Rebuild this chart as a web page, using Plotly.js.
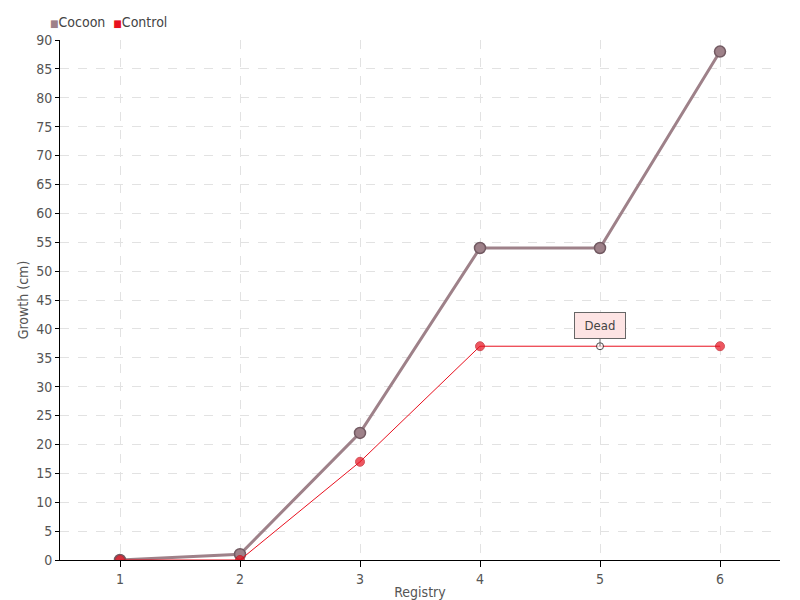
<!DOCTYPE html>
<html><head><meta charset="utf-8">
<script src="https://cdn.plot.ly/plotly-3.0.1.min.js"></script>
<style>html,body{margin:0;padding:0;background:#fff}
#chart text{font-stretch:condensed !important}</style>
</head><body>
<div id="chart" style="width:800px;height:600px"></div>
<script>
const categories = [1, 2, 3, 4, 5, 6];
const cocoon = [0, 1, 22, 54, 54, 88];
const control = [0, 0, 17, 37, 37, 37];
const seriesNames = ["Cocoon", "Control"];
const annotationText = "Dead";
const annotationIndex = 4;

const FONT = '"DejaVu Sans Condensed", "DejaVu Sans", sans-serif';
const cocoonColor = '#9e8189';
const controlColor = '#e8101e';

const controlMarkerColors = control.map((v, i) => i === annotationIndex ? '#ffffff' : controlColor);
const controlMarkerLines = control.map((v, i) => i === annotationIndex ? '#000000' : '#c00d18');
const controlMarkerSizes = control.map((v, i) => i === annotationIndex ? 7 : 9);

const traces = [
  {x: categories, y: cocoon, mode: 'lines+markers', name: seriesNames[0], showlegend: false,
   line: {color: cocoonColor, width: 3},
   marker: {color: cocoonColor, size: 11, line: {color: '#725a62', width: 1.5}}},
  {x: categories, y: control, mode: 'lines+markers', name: seriesNames[1], showlegend: false,
   line: {color: controlColor, width: 1},
   marker: {color: controlMarkerColors, size: controlMarkerSizes, line: {color: controlMarkerLines, width: 1}}}
];

const legendText = '<span style="color:' + cocoonColor + ';font-size:10px">■</span>' + seriesNames[0] +
  '  <span style="color:' + controlColor + ';font-size:10px">■</span>' + seriesNames[1];

const layout = {
  width: 800, height: 600,
  margin: {l: 60, r: 20, t: 40, b: 40},
  paper_bgcolor: '#fff', plot_bgcolor: '#fff',
  font: {family: FONT, size: 14, color: '#555'},
  showlegend: false,
  xaxis: {
    range: [0.5, 6.5], tickvals: categories, ticktext: categories.map(String),
    showline: true, linecolor: '#000', linewidth: 1,
    ticks: 'outside', ticklen: 6, tickcolor: '#000',
    showgrid: true, gridcolor: '#e2e2e2', griddash: 'dash', zeroline: false,
    title: {text: 'Registry', standoff: 2, font: {family: FONT, size: 14, color: '#555'}},
    tickfont: {family: FONT, size: 14, color: '#555'}
  },
  yaxis: {
    range: [0, 90], dtick: 5, tick0: 0,
    showline: true, linecolor: '#000', linewidth: 1,
    ticks: 'outside', ticklen: 4, tickcolor: '#000',
    showgrid: true, gridcolor: '#e2e2e2', griddash: 'dash', zeroline: false,
    title: {text: 'Growth (cm)', standoff: 4, font: {family: FONT, size: 14, color: '#555'}},
    tickfont: {family: FONT, size: 14, color: '#555'}
  },
  annotations: [{
    x: categories[annotationIndex], y: control[annotationIndex], xref: 'x', yref: 'y',
    text: annotationText, showarrow: true, arrowhead: 0, arrowwidth: 1, arrowcolor: '#666',
    ax: 0, ay: -21, bgcolor: '#fde4e4', bordercolor: '#666', borderwidth: 1, borderpad: 5,
    width: 40, font: {family: FONT, size: 13, color: '#444'}
  }, {
    xref: 'paper', yref: 'paper', x: -0.017, y: 1 + 18/520, xanchor: 'left', yanchor: 'middle',
    showarrow: false, text: legendText, font: {family: FONT, size: 14, color: '#444'}
  }]
};

Plotly.newPlot('chart', traces, layout, {displayModeBar: false});
</script>
</body></html>
